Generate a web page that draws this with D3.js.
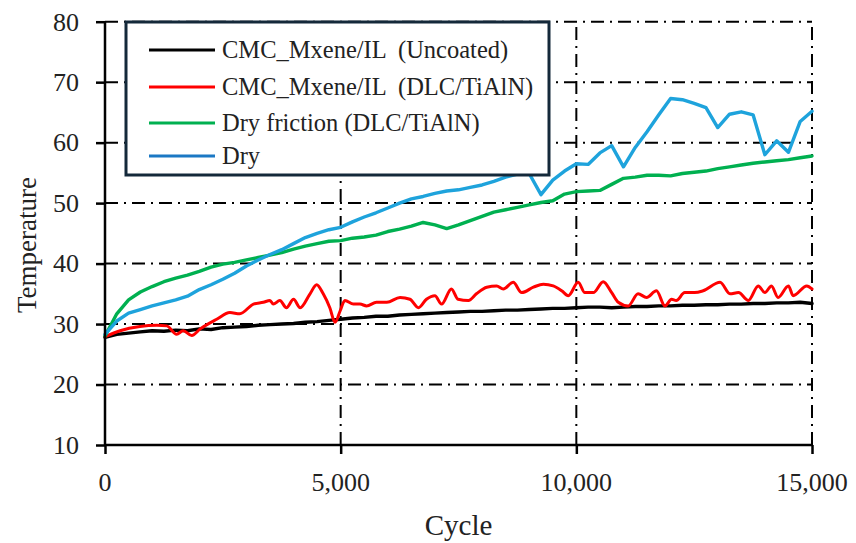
<!DOCTYPE html>
<html>
<head>
<meta charset="utf-8">
<script src="https://cdn.jsdelivr.net/npm/d3@7"></script>
<style>
  body { margin: 0; background: #fff; }
  .grid line { stroke: #000; stroke-width: 2; stroke-dasharray: 13 6 2 6; }
  text { font-family: "Liberation Serif", "Times New Roman", Times, "DejaVu Serif", serif; fill: #222; }
  .tickLabel { font-size: 26px; }
</style>
</head>
<body>
<script>
//Series values (temperature vs cycle)
var cycles = d3.range(0, 15001, 250);

var uncoated = [27.8, 28.3, 28.5, 28.7, 28.9, 28.8, 29.0, 28.9, 29.2, 29.1,
    29.4, 29.5, 29.6, 29.8, 29.9, 30.0, 30.1, 30.3, 30.4, 30.6,
    30.8, 31.0, 31.1, 31.3, 31.3, 31.5, 31.6, 31.7, 31.8, 31.9,
    32.0, 32.1, 32.1, 32.2, 32.3, 32.3, 32.4, 32.5, 32.6, 32.6,
    32.7, 32.8, 32.8, 32.7, 32.8, 32.9, 32.9, 33.0, 33.0, 33.1,
    33.1, 33.2, 33.2, 33.3, 33.3, 33.4, 33.4, 33.5, 33.5, 33.6, 33.4];

var dryFriction = [28.0, 31.7, 34.0, 35.3, 36.2, 37.0, 37.6, 38.1, 38.7, 39.4,
    39.9, 40.2, 40.6, 41.0, 41.4, 41.8, 42.4, 42.9, 43.3, 43.7,
    43.8, 44.2, 44.4, 44.7, 45.3, 45.7, 46.2, 46.8, 46.4, 45.8,
    46.4, 47.1, 47.8, 48.5, 48.9, 49.3, 49.7, 50.1, 50.4, 51.5,
    51.9, 52.0, 52.1, 53.1, 54.1, 54.3, 54.6, 54.6, 54.5, 54.9,
    55.1, 55.3, 55.7, 56.0, 56.3, 56.6, 56.8, 57.0, 57.2, 57.5, 57.8];

var dry = [28.3, 30.5, 31.8, 32.4, 33.0, 33.5, 34.0, 34.6, 35.7, 36.5,
    37.4, 38.4, 39.6, 40.6, 41.5, 42.3, 43.3, 44.3, 45.0, 45.6,
    46.0, 46.9, 47.7, 48.4, 49.2, 50.0, 50.7, 51.1, 51.6, 52.0,
    52.2, 52.6, 53.0, 53.6, 54.3, 54.8, 54.9, 51.4, 53.8, 55.3,
    56.5, 56.4, 58.3, 59.5, 56.0, 59.2, 61.8, 64.6, 67.3, 67.1,
    66.5, 65.8, 62.5, 64.7, 65.1, 64.6, 58.0, 60.3, 58.4, 63.5, 65.2];

//The DLC/TiAlN coated run is read at its own turning points
var coatedCycles = [0, 320, 740, 1100, 1310, 1520, 1660, 1840, 2020, 2370,
    2650, 2860, 3150, 3360, 3500, 3570, 3710, 3850, 4000, 4140,
    4350, 4490, 4630, 4770, 4880, 4990, 5090, 5270, 5410, 5550,
    5760, 5980, 6260, 6470, 6650, 6820, 7000, 7140, 7350, 7490,
    7710, 7880, 8100, 8310, 8450, 8660, 8840, 9090, 9300, 9510,
    9690, 9830, 10040, 10180, 10360, 10570, 10750, 10890, 11100, 11310,
    11490, 11700, 11880, 12020, 12120, 12300, 12510, 12690, 13050, 13260,
    13440, 13650, 13860, 14000, 14140, 14280, 14500, 14600, 14890, 15000];
var coated = [27.9, 28.9, 29.6, 29.8, 29.7, 28.3, 28.9, 28.1, 29.2, 30.8,
    31.9, 31.7, 33.3, 33.6, 33.9, 33.3, 33.9, 32.7, 34.1, 32.7,
    35.0, 36.5, 35.0, 32.7, 30.3, 32.2, 33.9, 33.3, 33.3, 33.0,
    33.6, 33.6, 34.4, 34.1, 32.7, 34.1, 34.7, 33.3, 35.8, 34.1,
    33.9, 35.0, 36.1, 36.3, 35.8, 36.9, 35.2, 36.1, 36.6, 36.3,
    35.5, 34.7, 36.9, 35.2, 35.2, 37.0, 35.2, 33.6, 33.0, 35.0,
    34.4, 35.5, 33.0, 34.1, 33.9, 35.2, 35.2, 35.5, 36.9, 35.0,
    35.2, 33.9, 36.3, 35.2, 36.3, 34.4, 36.3, 34.7, 36.3, 35.8];

var seriesNames = ["CMC_Mxene/IL  (Uncoated)", "CMC_Mxene/IL  (DLC/TiAlN)", "Dry friction (DLC/TiAlN)", "Dry"];
var seriesColors = ["#000000", "#ff0000", "#00b050", "#1ea3dc"];
var legendColors = ["#000000", "#ff0000", "#00b050", "#1b78c4"];
var xTicks = [0, 5000, 10000, 15000];
var yTicks = [10, 20, 30, 40, 50, 60, 70, 80];

var width = 856, height = 543;

var svg = d3.select("body").append("svg")
    .attr("width", width)
    .attr("height", height)
    .style("display", "block");

//Scales
var x = d3.scaleLinear().domain([0, 15000]).range([105, 812]);
var y = d3.scaleLinear().domain([10, 80]).range([445, 21.7]);

//Dash-dot grid
var grid = svg.append("g").attr("class", "grid");
grid.selectAll(".hgrid")
    .data(yTicks.filter(function(d){ return d > 10; }))
    .enter().append("line")
    .attr("x1", x(0)).attr("x2", x(15000))
    .attr("y1", function(d){ return y(d); })
    .attr("y2", function(d){ return y(d); });
grid.selectAll(".vgrid")
    .data(xTicks.filter(function(d){ return d > 0; }))
    .enter().append("line")
    .attr("x1", function(d){ return x(d); })
    .attr("x2", function(d){ return x(d); })
    .attr("y1", y(10)).attr("y2", y(80));

//Lines
var lineData = [
    cycles.map(function(c, i){ return [c, uncoated[i]]; }),
    coatedCycles.map(function(c, i){ return [c, coated[i]]; }),
    cycles.map(function(c, i){ return [c, dryFriction[i]]; }),
    cycles.map(function(c, i){ return [c, dry[i]]; })
];

var line = d3.line()
    .x(function(d){ return x(d[0]); })
    .y(function(d){ return y(d[1]); });
//red trace is smoother in the original
var smoothLine = d3.line()
    .curve(d3.curveMonotoneX)
    .x(function(d){ return x(d[0]); })
    .y(function(d){ return y(d[1]); });

svg.selectAll(".series")
    .data(lineData)
    .enter().append("path")
    .attr("class", "series")
    .attr("d", function(d, i){ return i == 1 ? smoothLine(d) : line(d); })
    .attr("fill", "none")
    .attr("stroke", function(d, i){ return seriesColors[i]; })
    .attr("stroke-width", function(d, i){ return i == 1 ? 3 : 3.4; })
    .attr("stroke-linejoin", "round")
    .attr("stroke-linecap", "round");

//Axes
var yAxis = svg.append("g")
    .attr("transform", "translate(" + x(0) + ",0)")
    .call(d3.axisLeft(y).tickValues(yTicks).tickSize(9).tickFormat(""));
var xAxis = svg.append("g")
    .attr("transform", "translate(0," + y(10) + ")")
    .call(d3.axisBottom(x).tickValues(xTicks).tickSize(9).tickFormat(""));
[yAxis, xAxis].forEach(function(ax){
    ax.select(".domain").attr("stroke", "#000").attr("stroke-width", 2.5);
    ax.selectAll(".tick line").attr("stroke", "#000").attr("stroke-width", 2.5);
});
yAxis.select(".domain").attr("d", "M0," + y(10) + "V" + y(80));
xAxis.select(".domain").attr("d", "M" + x(0) + ",0H" + x(15000));

//Tick labels
svg.selectAll(".ylab")
    .data(yTicks)
    .enter().append("text")
    .attr("class", "tickLabel")
    .attr("x", 79)
    .attr("y", function(d){ return y(d); })
    .attr("dy", "0.34em")
    .attr("text-anchor", "end")
    .text(function(d){ return d; });

svg.selectAll(".xlab")
    .data(xTicks)
    .enter().append("text")
    .attr("class", "tickLabel")
    .attr("x", function(d){ return x(d); })
    .attr("y", 491)
    .attr("text-anchor", "middle")
    .text(d3.format(","));

//Axis titles
svg.append("text")
    .attr("x", (x(0) + x(15000)) / 2)
    .attr("y", 535)
    .attr("text-anchor", "middle")
    .style("font-size", "29px")
    .text("Cycle");

svg.append("text")
    .attr("transform", "translate(36,245) rotate(-90)")
    .attr("text-anchor", "middle")
    .style("font-size", "27px")
    .text("Temperature");

//Legend
var legend = svg.append("g");
legend.append("rect")
    .attr("x", 126).attr("y", 22)
    .attr("width", 423).attr("height", 153)
    .attr("fill", "#fff")
    .attr("stroke", "#14293a")
    .attr("stroke-width", 3);

var legendRows = [50, 87, 123, 156];
var items = legend.selectAll(".item")
    .data(seriesNames)
    .enter().append("g")
    .attr("transform", function(d, i){ return "translate(0," + legendRows[i] + ")"; });
items.append("line")
    .attr("x1", 149).attr("x2", 215)
    .attr("stroke", function(d, i){ return legendColors[i]; })
    .attr("stroke-width", 3);
items.append("text")
    .attr("x", 222)
    .attr("dy", "0.32em")
    .style("font-size", "24.5px")
    .style("white-space", "pre")
    .text(function(d){ return d; });
</script>
</body>
</html>
